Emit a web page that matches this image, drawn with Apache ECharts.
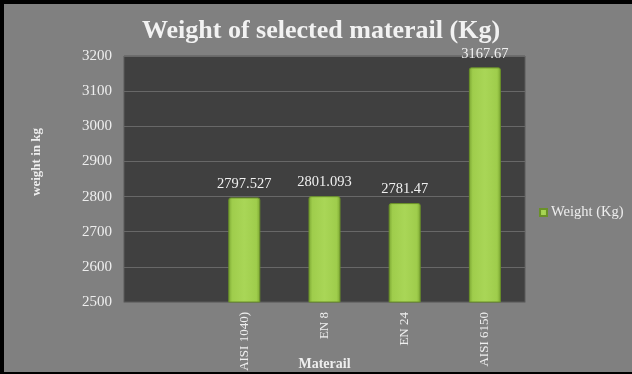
<!DOCTYPE html>
<html>
<head>
<meta charset="utf-8">
<script src="https://cdn.jsdelivr.net/npm/echarts@6/dist/echarts.min.js"></script>
<style>
  html, body { margin: 0; padding: 0; background: #808080; }
  #chart { width: 632px; height: 374px; }
</style>
</head>
<body>
<div id="chart"></div>
<script>
// Material names (first slot left empty) and their weights in kg
const categories = ['', 'AISI 1040)', 'EN 8', 'EN 24', 'AISI 6150'];
const weights = ['-', 2797.527, 2801.093, 2781.47, 3167.67];
const valueLabels = ['', '2797.527', '2801.093', '2781.47', '3167.67'];
const yTicks = { min: 2500, max: 3200, step: 100 };

const serif = '"Liberation Serif", "Times New Roman", serif';
const chart = echarts.init(document.getElementById('chart'));

const barFill = new echarts.graphic.LinearGradient(0, 0, 1, 0, [
  { offset: 0, color: '#7ba632' },
  { offset: 0.12, color: '#9fcd4c' },
  { offset: 0.5, color: '#a9d657' },
  { offset: 0.88, color: '#9fcd4c' },
  { offset: 1, color: '#7ba632' }
]);

chart.setOption({
  backgroundColor: '#808080',
  animation: false,
  title: {
    text: 'Weight of selected materail (Kg)',
    left: 137,
    top: 13,
    textStyle: { fontFamily: serif, fontWeight: 'bold', fontSize: 26, color: '#f2f2f2' }
  },
  legend: {
    left: 534,
    top: 200,
    itemWidth: 7,
    itemHeight: 7,
    itemGap: 4,
    icon: 'rect',
    textStyle: { fontFamily: serif, fontSize: 14.5, color: '#eeeeee', padding: [0, 0, 0, -1] },
    data: ['Weight (Kg)']
  },
  grid: {
    left: 124, top: 56, right: 107, bottom: 72,
    outerBoundsMode: 'none',
    containLabel: false,
    show: true, backgroundColor: '#404040', borderColor: '#5a5a5a', borderWidth: 1
  },
  xAxis: {
    type: 'category',
    data: categories,
    name: 'Materail',
    nameLocation: 'middle',
    nameGap: 55,
    nameMoveOverlap: false,
    nameTextStyle: { fontFamily: serif, fontWeight: 'bold', fontSize: 14, color: '#eeeeee' },
    axisLine: { lineStyle: { color: '#6a6a6a' } },
    axisTick: { show: false },
    axisLabel: { rotate: 90, margin: 10, fontFamily: serif, fontSize: 13, color: '#eeeeee', interval: 0 }
  },
  yAxis: {
    type: 'value',
    min: yTicks.min,
    max: yTicks.max,
    interval: yTicks.step,
    name: 'weight in kg',
    nameLocation: 'middle',
    nameGap: 81,
    nameRotate: 90,
    nameMoveOverlap: false,
    nameTextStyle: { fontFamily: serif, fontWeight: 'bold', fontSize: 13, color: '#eeeeee', padding: [0, 0, 0, 34] },
    axisLine: { show: false },
    axisTick: { show: false },
    axisLabel: { margin: 12, fontFamily: serif, fontSize: 15, color: '#eeeeee', formatter: v => String(v) },
    splitLine: { lineStyle: { color: '#686868', width: 1 } }
  },
  series: [{
    name: 'Weight (Kg)',
    type: 'bar',
    barWidth: 32,
    data: weights,
    itemStyle: { color: barFill, borderColor: '#6a9128', borderWidth: 1, borderRadius: [2, 2, 0, 0] },
    label: {
      show: true,
      position: 'top',
      distance: 6,
      fontFamily: serif,
      fontSize: 14.5,
      color: '#f0f0f0',
      formatter: p => valueLabels[p.dataIndex]
    }
  }],
  graphic: [
    { type: 'rect', left: 0, top: 0, shape: { width: 632, height: 4 }, style: { fill: '#000' }, z: 100 },
    { type: 'rect', left: 0, top: 0, shape: { width: 4, height: 374 }, style: { fill: '#000' }, z: 100 },
    { type: 'rect', left: 0, top: 372, shape: { width: 632, height: 2 }, style: { fill: '#000' }, z: 100 }
  ]
});
</script>
</body>
</html>
